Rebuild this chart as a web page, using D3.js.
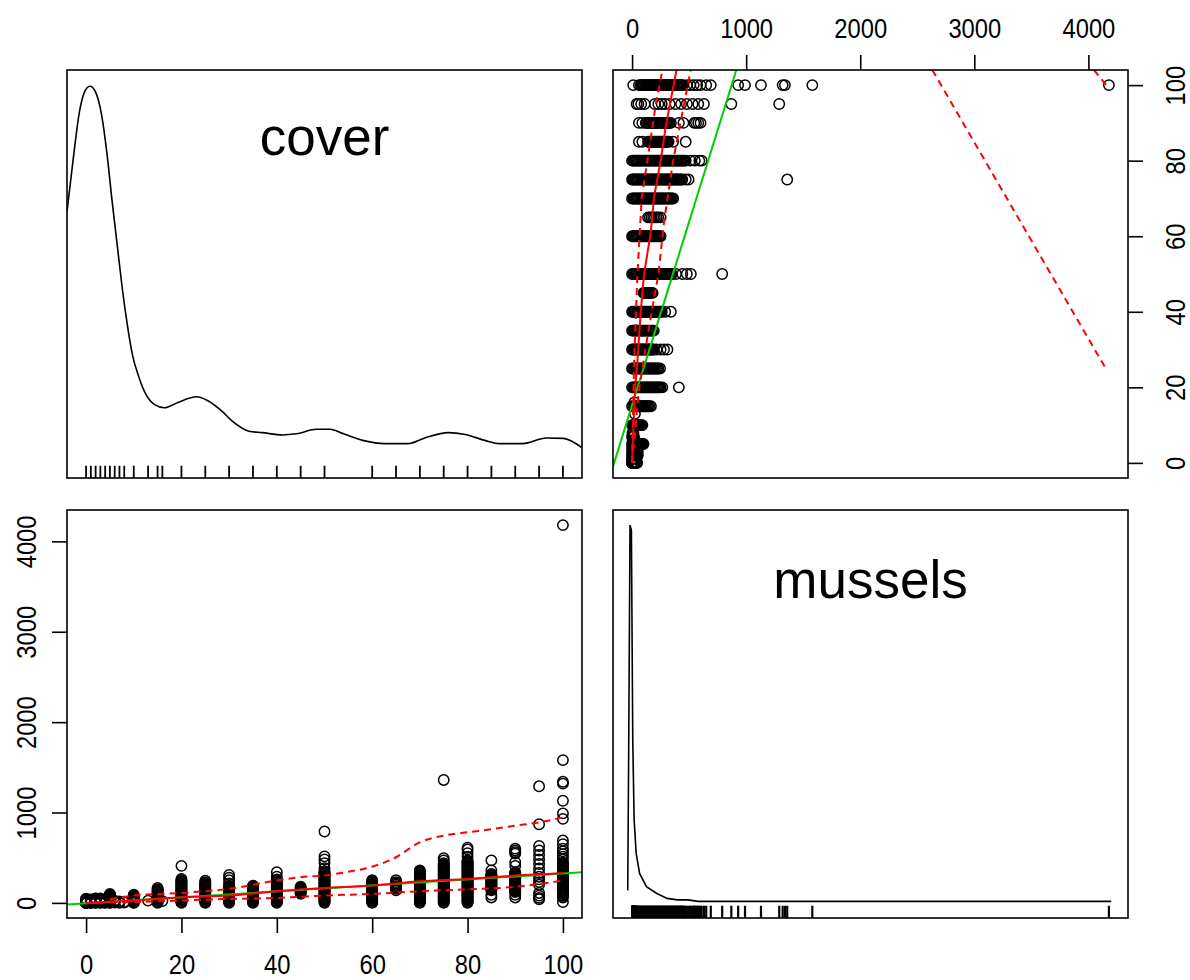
<!DOCTYPE html>
<html><head><meta charset="utf-8">
<script src="https://cdn.jsdelivr.net/npm/d3@7"></script>
<style>
body{margin:0;background:#fff}
text{font-family:"Liberation Sans",Arial,sans-serif;fill:#000}
</style>
</head><body>
<svg id="c" width="1190" height="980"></svg>
<script>
// ---------------- data ----------------
const coverLevels = [0,1,2,3,4,5,6,7,8,10,13,15,16,20,25,30,35,40,45,50,60,65,70,75,80,85,90,95,100];
const musselsByCover = [
  [0,0,0,1,2,3,4,5,6,7,8,10,12,14,16,18,20,22,25,28,31,35,40,45],
  [0,2,4,6,8,10,12,15,18,21,24,27,30,34,38],
  [0,3,6,9,12,15,18,21,24,27,30,34,38,42,46,50],
  [0,4,8,12,16,20,25,30,35,40,50],
  [0,5,10,15,20,25,30,40],
  [0,5,10,15,20,25,30,35,40,45,50,55,60,65,70,75,80,85,90,100],
  [5,15,25],
  [0,8,16],
  [4,12],
  [0,5,10,15,20,25,30,35,40,45,50,55,60,65,70,80,90],
  [25],
  [0,10,20,30,40,50,60,70,80,90,100,110,120,130,140,150,165],
  [20],
  [0,10,20,30,40,50,60,70,80,90,100,110,120,130,140,150,160,170,180,190,200,210,220,230,240,250,265,410],
  [0,10,20,30,40,50,60,70,80,90,100,110,120,130,140,150,160,170,180,190,200,210,220,230,245],
  [0,10,20,30,40,50,60,70,80,90,100,110,120,130,140,150,160,170,180,190,215,250,280,310],
  [0,10,20,30,40,50,60,70,80,90,100,110,120,130,140,150,160,170,180,190],
  [0,10,20,30,40,50,60,70,80,90,100,110,120,130,140,150,160,170,180,190,200,210,220,230,240,250,260,290,340],
  [100,110,120,130,140,150,160,170,180],
  [0,10,20,30,40,50,60,70,80,90,100,110,120,130,140,150,160,170,180,190,200,210,220,230,240,250,260,270,280,290,300,310,320,330,340,350,385,440,480,515,790],
  [0,10,20,30,40,50,60,70,80,90,100,110,120,130,140,150,160,170,180,190,200,210,220,230,240,250],
  [140,155,170,185,200,215,230,250],
  [0,10,20,30,40,50,60,70,80,90,100,110,120,130,140,150,160,170,180,190,200,210,220,230,240,250,260,270,280,290,300,310,320,330,340,350,360],
  [0,10,20,30,40,50,60,70,80,90,100,110,120,130,140,150,160,170,180,190,200,210,220,230,240,250,260,270,280,290,300,310,320,330,340,350,360,370,380,390,400,410,420,430,440,470,495,1360],
  [0,10,20,30,40,50,60,70,80,90,100,110,120,130,140,150,160,170,180,190,200,210,220,230,240,250,260,270,280,290,300,310,320,330,340,350,360,370,380,390,400,410,420,430,440,450,460,470,510,550,590,610],
  [60,90,140,150,160,170,180,190,200,210,220,230,240,250,260,270,280,290,300,310,320,360,470],
  [60,90,120,130,140,150,160,170,180,190,200,210,220,230,240,250,260,270,280,290,300,310,320,330,340,410,450,545,560,580,600],
  [40,55,80,110,200,230,260,290,330,380,430,480,530,580,630,870,1290],
  [10,60,75,85,95,105,115,125,135,145,155,165,175,185,195,205,215,225,235,245,255,265,275,285,295,305,315,325,335,345,355,365,375,385,395,405,415,425,435,445,480,510,540,570,600,650,690,930,990,1130,1320,1340,1580,4180]
];
const varNames = ["cover","mussels"];
const coverTicks = [0,20,40,60,80,100];
const musselsTicks = [0,1000,2000,3000,4000];

// density of cover (relative to its maximum)
const coverDensX = [-4,-2.72,-1.31,-0.24,0.82,1.89,3.30,4.37,5.43,6.49,7.56,8.62,9.69,11.10,12.52,14.30,16.42,19.26,23.16,25.64,28.48,30.60,34.15,36.99,41.24,44.08,48.33,51.17,54.00,58.26,62.51,67.48,71.02,75.99,79.53,83.79,86.62,91.58,96.55,100.1,104];
const coverDensY = [0.665,0.802,0.935,0.984,0.997,0.984,0.918,0.820,0.696,0.581,0.465,0.368,0.288,0.226,0.182,0.155,0.146,0.160,0.175,0.164,0.137,0.111,0.084,0.080,0.074,0.077,0.089,0.089,0.077,0.059,0.051,0.051,0.066,0.080,0.075,0.059,0.051,0.051,0.066,0.065,0.040];
// density of mussels (relative to its maximum)
const musselsDensX = [-39,-38,-30,-18,-6,6,18,36,66,126,217,308,398,490,578,4200];
const musselsDensY = [0.034,0.034,0.387,1.0,0.987,0.431,0.219,0.131,0.078,0.043,0.025,0.012,0.008,0.008,0.004,0.004];

// bottom-left panel: mussels vs cover
const blFitCover   = [0,10,20,30,40,50,60,70,80,90,100];
const blFitMussels = [0,26,63,81,129,166,191,239,265,302,328];
const blUpCover    = [5,10,20,30,40,45,50,55,60,65,70,75,80,85,90,95,100];
const blUpMussels  = [40,81,110,156,248,285,303,345,400,505,671,744,781,815,854,891,946];
const blLoCover    = [0,10,20,30,40,50,60,70,75,80,90,100];
const blLoMussels  = [0,10,26,44,55,81,100,129,140,150,178,248];
const blLmCover    = [-4,104];
const blLmMussels  = [-18,339];

// top-right panel: cover vs mussels
const trFitMussels = [0,12,27,47,76,105,164,193,251,295,389];
const trFitCover   = [0,9.6,20,27,40,50,61,70.5,80,89,104];
const trLoMussels  = [0,18,47,85,134,208,266];
const trLoCover    = [0,27,50,70.5,80,95,104];
const trUpMussels  = [0,32,56,149,231,281,360,456,514];
const trUpCover    = [0,9.6,18.4,36,50,64,80,95,104];
const trFarMussels = [2632,4152];
const trFarCover   = [104,25];
const trTailMussels= [4049,4170];
const trTailCover  = [104,99.5];
const trLmMussels  = [-172,914];
const trLmCover    = [-1.4,104];

// ---------------- drawing ----------------
const svg = d3.select("#c");
const W = 515, H = 408;
const P = {tl:[67,70], tr:[613,70], bl:[67,510], br:[613,510]};
const pad = e => { const d = (e[1]-e[0])*0.04; return [e[0]-d, e[1]+d]; };

const pts = [];
coverLevels.forEach((c,i) => musselsByCover[i].forEach(m => pts.push({c, m})));
const coverDom = pad(d3.extent(pts, d => d.c));
const musDom = pad(d3.extent(pts, d => d.m));
const densDom = pad([0,1]);

const xC  = d3.scaleLinear(coverDom, [P.bl[0], P.bl[0]+W]);
const yM  = d3.scaleLinear(musDom, [P.bl[1]+H, P.bl[1]]);
const xM  = d3.scaleLinear(musDom, [P.tr[0], P.tr[0]+W]);
const yC  = d3.scaleLinear(coverDom, [P.tr[1]+H, P.tr[1]]);
const xCd = d3.scaleLinear(coverDom, [P.tl[0], P.tl[0]+W]);
const yCd = d3.scaleLinear(densDom, [P.tl[1]+H, P.tl[1]]);
const xMd = d3.scaleLinear(musDom, [P.br[0], P.br[0]+W]);
const yMd = d3.scaleLinear(densDom, [P.br[1]+H, P.br[1]]);

const defs = svg.append("defs");
Object.entries(P).forEach(([k,p]) => {
  defs.append("clipPath").attr("id","clip-"+k).append("rect")
    .attr("x",p[0]).attr("y",p[1]).attr("width",W).attr("height",H);
});

function drawLine(panel, xs, ys, sx, sy, color, dashed, width, curve) {
  const gen = d3.line().x(d=>sx(d[0])).y(d=>sy(d[1])).curve(curve || d3.curveLinear);
  svg.append("path").attr("clip-path","url(#clip-"+panel+")")
    .attr("d", gen(d3.zip(xs, ys))).attr("fill","none")
    .attr("stroke", color).attr("stroke-width", width || 2)
    .attr("stroke-dasharray", dashed ? "7,5" : null);
}

// ---- top-left: cover density
drawLine("tl", coverDensX, coverDensY, xCd, yCd, "#000", false, 1.6, d3.curveMonotoneX);
svg.append("g").selectAll("line").data(Array.from(new Set(pts.map(d=>d.c)))).join("line")
  .attr("x1", d=>xCd(d)).attr("x2", d=>xCd(d))
  .attr("y1", P.tl[1]+H).attr("y2", P.tl[1]+H-H*0.03)
  .attr("stroke","#000").attr("stroke-width",1.8);
svg.append("text").attr("x", P.tl[0]+W/2).attr("y", 155).attr("text-anchor","middle")
  .style("font-size","53px").text(varNames[0]);

// ---- bottom-right: mussels density
drawLine("br", musselsDensX, musselsDensY, xMd, yMd, "#000", false, 1.6);
svg.append("g").selectAll("line").data(Array.from(new Set(pts.map(d=>d.m)))).join("line")
  .attr("x1", d=>xMd(d)).attr("x2", d=>xMd(d))
  .attr("y1", P.br[1]+H).attr("y2", P.br[1]+H-H*0.03)
  .attr("stroke","#000").attr("stroke-width",2.2);
svg.append("text").attr("x", P.br[0]+W/2).attr("y", 598).attr("text-anchor","middle")
  .style("font-size","53px").text(varNames[1]);

// ---- bottom-left: scatter mussels ~ cover
svg.append("g").selectAll("circle").data(pts).join("circle")
  .attr("cx", d=>xC(d.c)).attr("cy", d=>yM(d.m)).attr("r", 5.2)
  .attr("fill","none").attr("stroke","#000").attr("stroke-width",1.5);
drawLine("bl", blLmCover, blLmMussels, xC, yM, "#00CD00", false, 2);
drawLine("bl", blFitCover, blFitMussels, xC, yM, "#FF0000", false, 2, d3.curveMonotoneX);
drawLine("bl", blUpCover, blUpMussels, xC, yM, "#FF0000", true, 2, d3.curveMonotoneX);
drawLine("bl", blLoCover, blLoMussels, xC, yM, "#FF0000", true, 2, d3.curveMonotoneX);

// ---- top-right: scatter cover ~ mussels
svg.append("g").selectAll("circle").data(pts).join("circle")
  .attr("cx", d=>xM(d.m)).attr("cy", d=>yC(d.c)).attr("r", 5.2)
  .attr("fill","none").attr("stroke","#000").attr("stroke-width",1.5);
drawLine("tr", trLmMussels, trLmCover, xM, yC, "#00CD00", false, 2);
drawLine("tr", trFitMussels, trFitCover, xM, yC, "#FF0000", false, 2);
drawLine("tr", trLoMussels, trLoCover, xM, yC, "#FF0000", true, 2);
drawLine("tr", trUpMussels, trUpCover, xM, yC, "#FF0000", true, 2);
drawLine("tr", trFarMussels, trFarCover, xM, yC, "#FF0000", true, 2);
drawLine("tr", trTailMussels, trTailCover, xM, yC, "#FF0000", true, 2);

// ---- boxes
Object.values(P).forEach(p => {
  svg.append("rect").attr("x",p[0]).attr("y",p[1]).attr("width",W).attr("height",H)
    .attr("fill","none").attr("stroke","#000").attr("stroke-width",1.6);
});

// ---- axes
const fmt = d3.format("d");
function styleAxis(g) {
  g.select(".domain").remove();
  g.selectAll(".tick line").attr("stroke","#000").attr("stroke-width",1.6);
  g.selectAll(".tick text").style("font-size","27px").attr("fill","#000");
}
const gB = svg.append("g").attr("transform",`translate(0,${P.bl[1]+H})`)
  .call(d3.axisBottom(xC).tickValues(coverTicks).tickFormat(fmt).tickSize(15).tickPadding(22));
styleAxis(gB);
gB.selectAll(".tick text").attr("transform","scale(0.88,1)");

const gT = svg.append("g").attr("transform",`translate(0,${P.tr[1]})`)
  .call(d3.axisTop(xM).tickValues(musselsTicks).tickFormat(fmt).tickSize(15).tickPadding(17));
styleAxis(gT);
gT.selectAll(".tick text").attr("transform","scale(0.88,1)");

const gL = svg.append("g").attr("transform",`translate(${P.bl[0]},0)`)
  .call(d3.axisLeft(yM).tickValues(musselsTicks).tickFormat(fmt).tickSize(15));
styleAxis(gL);
gL.selectAll(".tick text").attr("x",0).attr("dy",null).attr("text-anchor","middle")
  .attr("dominant-baseline","central").attr("transform","translate(-41,0) rotate(-90) scale(0.88,1)");

const gR = svg.append("g").attr("transform",`translate(${P.tr[0]+W},0)`)
  .call(d3.axisRight(yC).tickValues(coverTicks).tickFormat(fmt).tickSize(15));
styleAxis(gR);
gR.selectAll(".tick text").attr("x",0).attr("dy",null).attr("text-anchor","middle")
  .attr("dominant-baseline","central").attr("transform","translate(47,0) rotate(-90) scale(0.88,1)");
</script>
</body></html>
